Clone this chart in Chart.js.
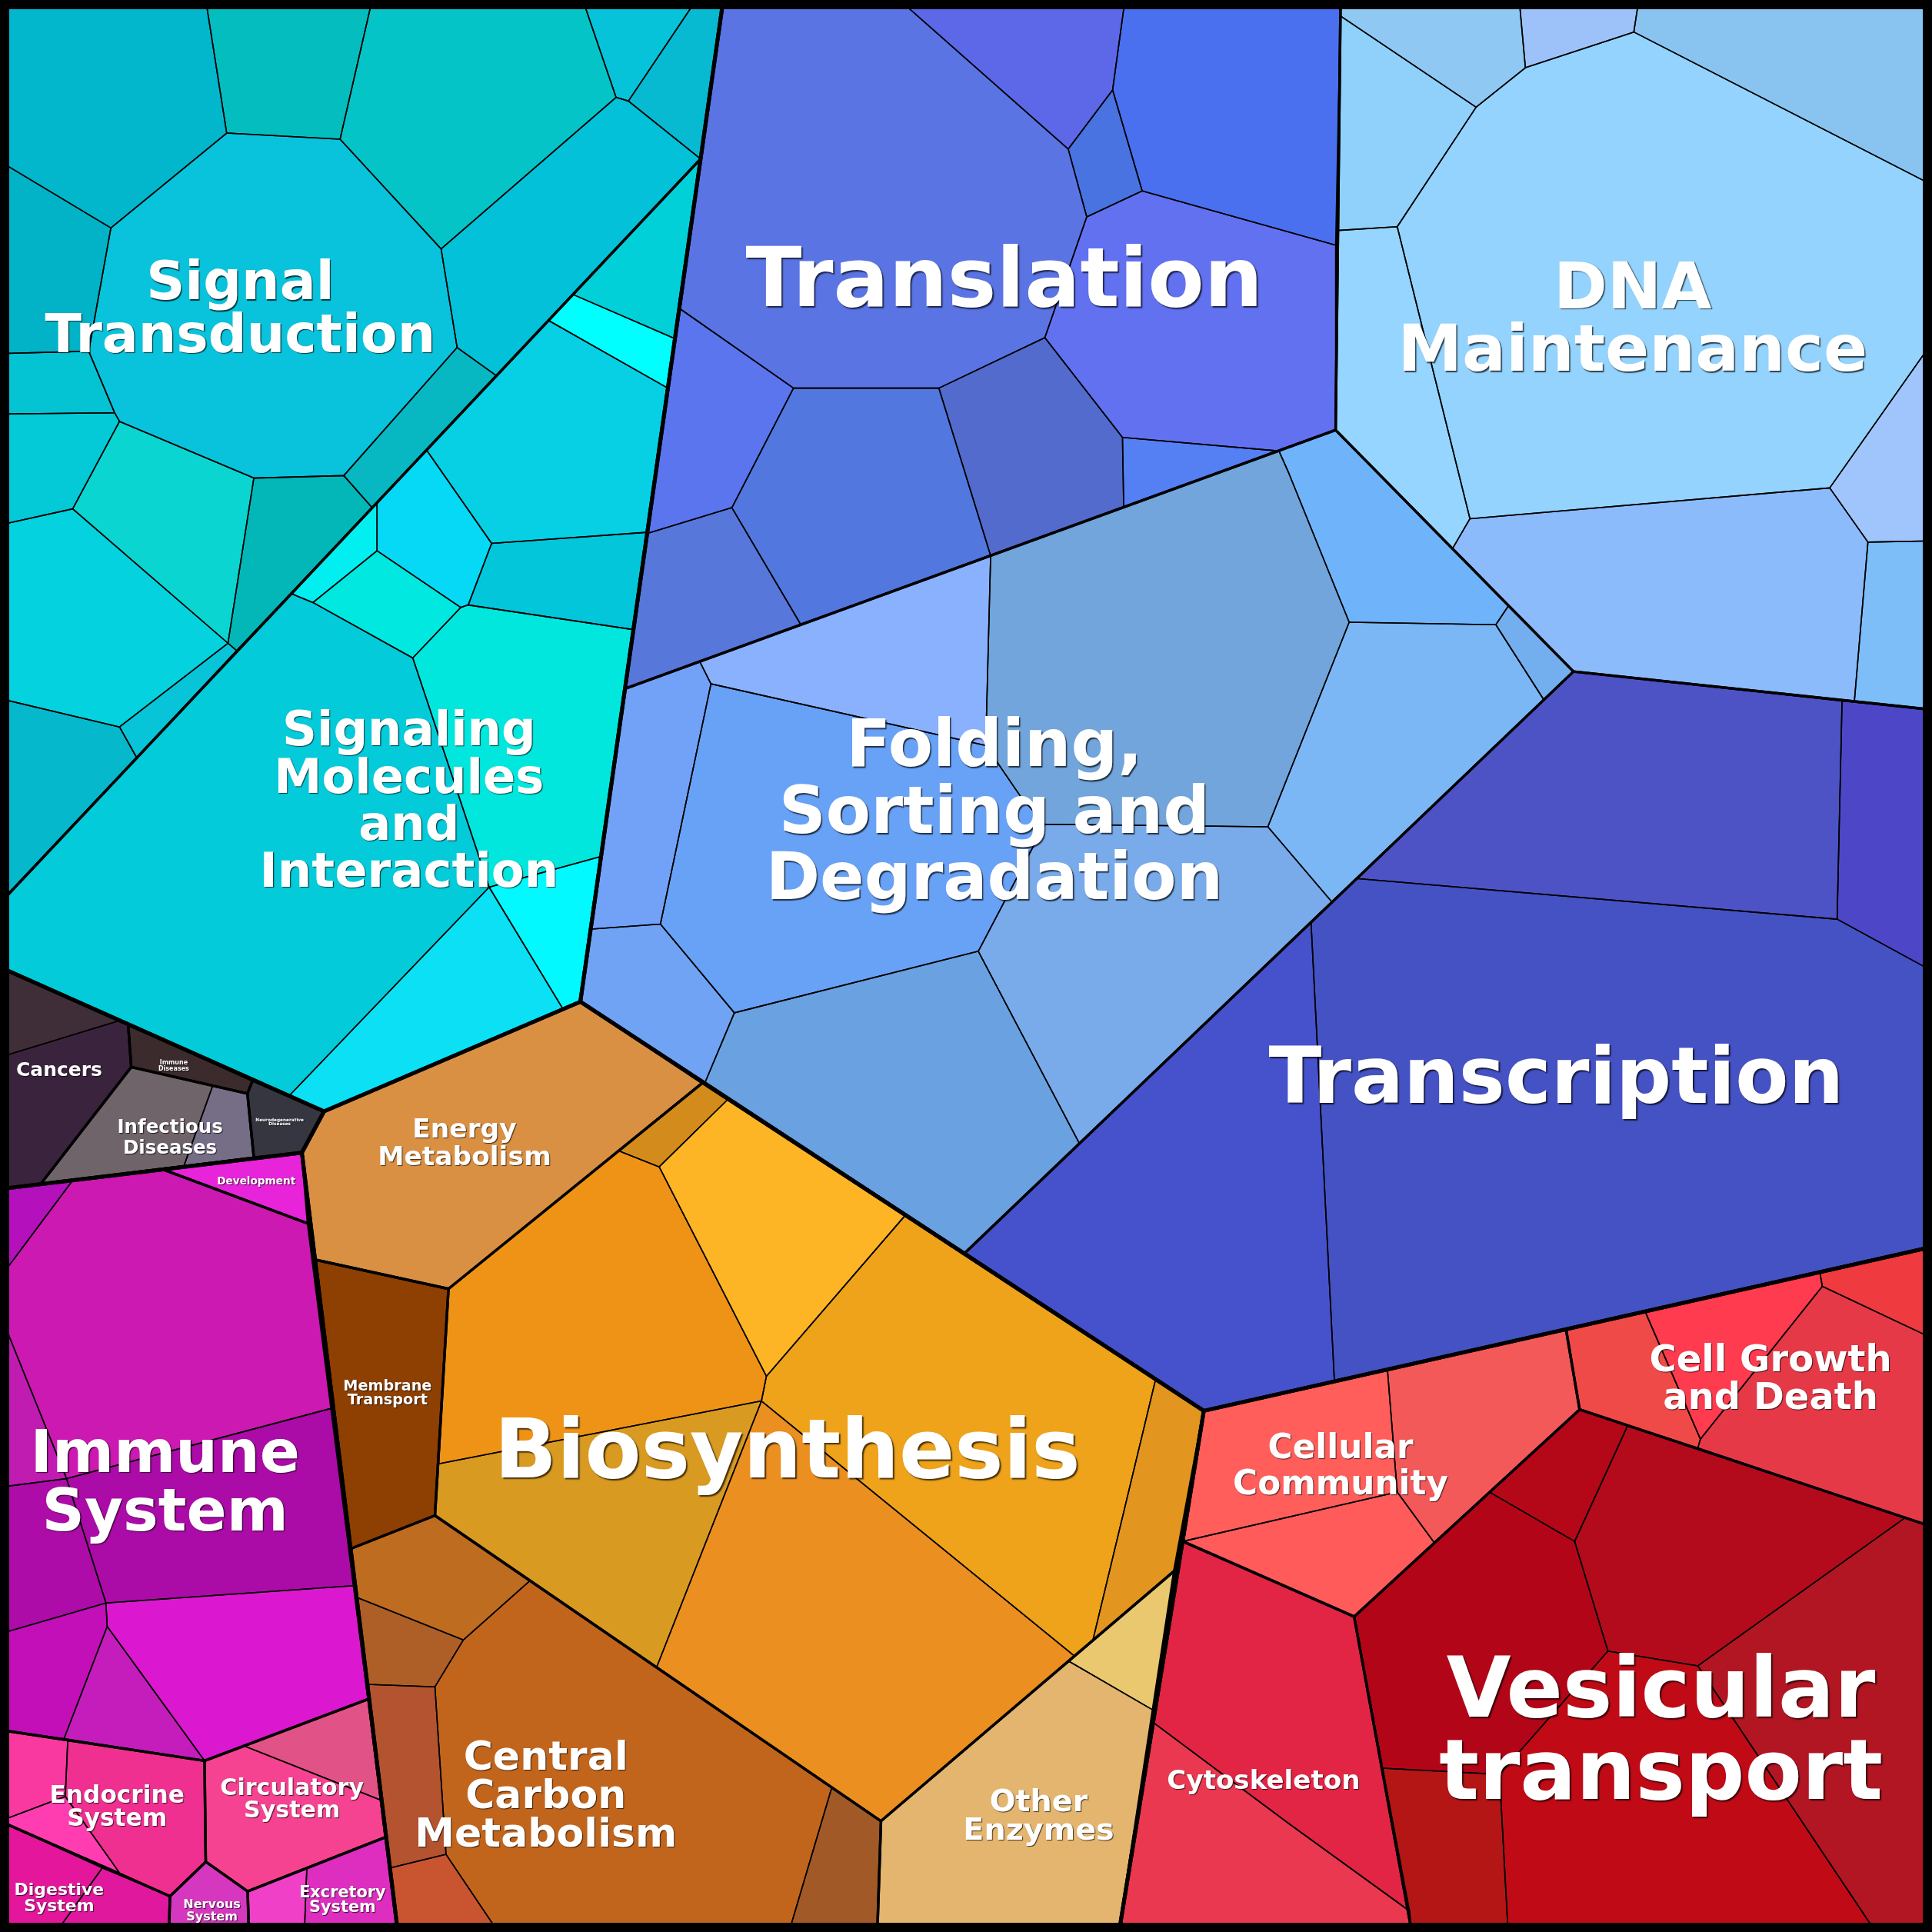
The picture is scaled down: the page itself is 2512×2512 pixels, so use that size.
<!DOCTYPE html>
<html>
<head>
<meta charset="utf-8">
<script src="https://cdn.jsdelivr.net/npm/chart.js@4.4.1/dist/chart.umd.min.js"></script>
<style>
  html, body { margin: 0; padding: 0; background: #000; }
  #wrap { width: 2512px; height: 2512px; }
</style>
</head>
<body>
<div id="wrap"><canvas id="voronoi"></canvas></div>
<script>
// Voronoi treemap of pathway categories. Coordinates are in map units (0..1568 on both axes).

// top level classes
const classNames = ['Environmental Information Processing', 'Genetic Information Processing', 'Metabolism',
  'Organismal Systems', 'Human Diseases', 'Cellular Processes'];
const classOutlines = [
  [[0,0],[587,0],[471,813],[263,902],[0,785]],
  [[587,0],[1568,0],[1568,1012],[977,1145],[471,813]],
  [[263,902],[471,813],[977,1145],[908,1569],[323,1569],[245,935.5]],
  [[0,965],[245,935.5],[323,1569],[0,1569]],
  [[0,785],[263,902],[245,935.5],[0,965]],
  [[977,1145],[1568,1012],[1568,1569],[908,1569]]
];

// second level categories
const categoryNames = ['Signal Transduction', 'Signaling Molecules and Interaction', 'Translation', 'DNA Maintenance',
  'Folding, Sorting and Degradation', 'Transcription', 'Energy Metabolism', 'Membrane Transport', 'Biosynthesis',
  'Central Carbon Metabolism', 'Other Enzymes', 'Cancers', 'Immune Diseases', 'Infectious Diseases',
  'Neurodegenerative Diseases', 'Development', 'Immune System', 'Endocrine System', 'Circulatory System',
  'Digestive System', 'Nervous System', 'Excretory System', 'Cellular Community', 'Cell Growth and Death',
  'Cytoskeleton', 'Vesicular transport'];
const categoryOutlines = [
  [[0,0],[587,0],[568.6,129],[0,733]],
  [[568.6,129],[471,813],[263,902],[0,785],[0,733]],
  [[587,0],[1088,0],[1084,349],[507,559]],
  [[1088,0],[1568,0],[1568,576],[1277,545],[1084,349]],
  [[507,559],[1084,349],[1277,545],[783,1017],[471,813]],
  [[1277,545],[1568,576],[1568,1012],[977,1145],[783,1017]],
  [[245,935.5],[263,902],[471,813],[570,879],[364,1046],[254,1022]],
  [[254,1022],[364,1046],[353,1230],[284.5,1257]],
  [[570,879],[977,1145],[953,1275],[715,1478],[353,1230],[364,1046]],
  [[284.5,1257],[353,1230],[715,1478],[712,1569],[323,1569]],
  [[953,1275],[908,1569],[712,1569],[715,1478]],
  [[0,785],[104,831],[106.5,866],[33,961],[0,965]],
  [[104,831],[205,877],[200.8,887.5],[106.5,866]],
  [[106.5,866],[200.8,887.5],[206,939.5],[33,961]],
  [[205,877],[263,902],[245,935.5],[206,939.5],[200.8,887.5]],
  [[132,949],[245,935.5],[250,993]],
  [[0,965],[132,949],[250,993],[299,1379],[166,1429],[0,1404]],
  [[0,1404],[166,1429],[167,1511],[138,1539],[0,1478]],
  [[166,1429],[299,1379],[313,1491],[201,1535],[167,1511]],
  [[0,1478],[138,1539],[137,1569],[0,1569]],
  [[138,1539],[167,1511],[201,1535],[202,1569],[137,1569]],
  [[201,1535],[313,1491],[323,1569],[202,1569]],
  [[977,1145],[1271,1079],[1282,1144],[1099,1312],[960,1251]],
  [[1271,1079],[1568,1012],[1568,1239],[1282,1144]],
  [[960,1251],[1099,1312],[1146,1569],[908,1569]],
  [[1099,1312],[1282,1144],[1568,1239],[1568,1569],[1146,1569]]
];

// leaf cells (pathways), grouped by class
const environmentalCells = [
  [[0,0],[167,0],[184,108],[90,185],[0,131]],
  [[167,0],[302,0],[276,113],[184,108]],
  [[302,0],[473,0],[500,79],[358,202],[276,113]],
  [[473,0],[565,0],[510,82],[500,79]],
  [[565,0],[587,0],[568.6,129],[510,82]],
  [[184,108],[276,113],[358,202],[371,282],[279,386],[206,388],[97,342],[93,335],[72,285],[90,185]],
  [[500,79],[510,82],[568.6,129],[403,305],[371,282],[358,202]],
  [[371,282],[403,305],[302,412],[279,386]],
  [[0,131],[90,185],[72,285],[0,287]],
  [[0,287],[72,285],[93,335],[0,336]],
  [[0,336],[93,335],[97,342],[59,413],[0,426]],
  [[97,342],[206,388],[185,522],[59,413]],
  [[206,388],[279,386],[302,412],[192,528],[185,522]],
  [[0,426],[59,413],[185,522],[97,590],[0,567]],
  [[97,590],[185,522],[192,528],[111,615]],
  [[0,567],[97,590],[111,615],[0,733]],
  [[568.6,129],[548,275],[465,239]],
  [[465,239],[548,275],[542,315],[445,260]],
  [[445,260],[542,315],[525,432],[399,441],[346,365]],
  [[346,365],[399,441],[380,491],[374,493],[306,447],[306,408]],
  [[399,441],[525,432],[514,511],[380,491]],
  [[306,408],[306,447],[254,489],[237,482]],
  [[306,447],[374,493],[335,534],[254,489]],
  [[380,491],[514,511],[488,695],[397,720],[335,534],[374,493]],
  [[397,720],[488,695],[471,813],[457,819]],
  [[397,720],[457,819],[263,902],[235,889]],
  [[0,733],[237,482],[254,489],[335,534],[397,720],[235,889],[0,785]]
];
const environmentalColors = ['#02b6cc','#04bdbe','#05c4c8','#06c3d9','#07b9d1','#08c3db','#03c1d8','#07b8c3',
  '#02b3c7','#04c3d3','#03cad6','#0bd5d1','#03b7b9','#04d3df','#08c4d9','#06b8cc',
  '#02d0d9','#00ffff','#07d0e5','#05d9f5','#03c6da','#02eff2','#00e8df','#01e7de','#02f9ff','#0be0f4','#03cbd9'];

const geneticCells = [
  [[587,0],[730,0],[867,121],[882,176],[848,274],[762,315],[644,315],[551,250]],
  [[730,0],[913,0],[903,73],[867,121]],
  [[913,0],[1088,0],[1084,199],[927,155],[903,73]],
  [[903,73],[927,155],[882,176],[867,121]],
  [[882,176],[927,155],[1084,199],[1084,349],[1038,366],[911,355],[848,274]],
  [[848,274],[911,355],[912,412],[804,451],[762,315]],
  [[911,355],[1038,366],[912,412]],
  [[644,315],[762,315],[804,451],[650,507],[594,412]],
  [[551,250],[644,315],[594,412],[525,433]],
  [[525,433],[594,412],[650,507],[507,559]],
  [[1088,0],[1233,0],[1238,55],[1198,87],[1088,13]],
  [[1233,0],[1330,0],[1326,26],[1238,55]],
  [[1330,0],[1568,0],[1568,150],[1326,26]],
  [[1198,87],[1238,55],[1326,26],[1568,150],[1568,278],[1485,396],[1193,421],[1134,184]],
  [[1088,13],[1198,87],[1134,184],[1086,187]],
  [[1086,187],[1134,184],[1193,421],[1179,445],[1084,349]],
  [[1485,396],[1568,278],[1568,439],[1516,440]],
  [[1193,421],[1485,396],[1516,440],[1505,569],[1277,545],[1179,445]],
  [[1516,440],[1568,439],[1568,576],[1505,569]],
  [[568,537],[804,451],[800,605],[577,555]],
  [[804,451],[1038,366],[1046,384],[1095,505],[1029,671],[848,669],[828,646],[800,605]],
  [[1038,366],[1084,349],[1179,445],[1224,492],[1214,507],[1095,505],[1046,384]],
  [[1214,507],[1224,492],[1277,545],[1253,568]],
  [[1095,505],[1214,507],[1253,568],[1081,732],[1029,671]],
  [[1029,671],[1081,732],[876,928],[794,772],[848,669]],
  [[577,555],[800,605],[828,646],[848,669],[794,772],[596,822],[536,750]],
  [[507,559],[568,537],[577,555],[536,750],[480,754]],
  [[480,754],[536,750],[596,822],[572,879],[471,813]],
  [[596,822],[794,772],[876,928],[783,1017],[572,879]],
  [[1277,545],[1495,569],[1491,746],[1101,713]],
  [[1495,569],[1568,576],[1568,788],[1491,746]],
  [[1101,713],[1491,746],[1568,788],[1568,1012],[1083,1121],[1064,748]],
  [[1064,748],[1083,1121],[977,1145],[783,1017]]
];
const geneticColors = ['#5a74e4','#5c68e7','#4a70ef','#4873e1','#6271f0','#526bcc','#5580f3','#5277df','#5b75ee','#5777db',
  '#8ec8f3','#9dc2fa','#89c4f0','#93d3fd','#8fd1fa','#95d5ff','#a0c5fd','#8cbbfc','#7dbef9',
  '#8ab1fd','#71a5db','#6fb4fb','#73afee','#7bb7f5','#79abeb','#68a2f6','#72a2f7','#70a3f4','#6aa1e0',
  '#4d53c4','#4d47c8','#4552c3','#4652cc'];

const metabolismCells = [
  [[245,935.5],[263,902],[471,813],[570,879],[364,1046],[254,1022]],
  [[254,1022],[364,1046],[353,1230],[284.5,1257]],
  [[570,879],[591,892],[535,947],[502,934]],
  [[591,892],[735,986],[622,1117],[535,947]],
  [[502,934],[535,947],[622,1117],[618,1137],[356,1188],[364,1046]],
  [[735,986],[938,1119],[887,1331],[872,1344],[618,1137],[622,1117]],
  [[938,1119],[977,1145],[953,1275],[887,1331]],
  [[356,1188],[618,1137],[533,1353],[353,1230]],
  [[618,1137],[872,1344],[715,1478],[533,1353]],
  [[953,1275],[936,1388],[867,1348]],
  [[867,1348],[936,1388],[908,1569],[712,1569],[715,1478]],
  [[284.5,1257],[353,1230],[430,1283],[376,1331],[288.5,1296]],
  [[288.5,1296],[376,1331],[353,1369],[297.5,1367]],
  [[430,1283],[675,1451],[640,1569],[405,1569],[362,1505],[353,1369],[376,1331]],
  [[675,1451],[715,1478],[712,1569],[640,1569]],
  [[297.5,1367],[353,1369],[362,1505],[316.5,1516]],
  [[316.5,1516],[362,1505],[405,1569],[323,1569]]
];
const metabolismColors = ['#da9043','#8e3f02','#d38b1c','#fdb526','#ef9316','#eea31a','#e2951f','#d99a22','#ea8f20',
  '#eac870','#e4b56e','#be6c20','#ae5f28','#c2651c','#a15a27','#b35330','#c85530'];

const organismalCells = [
  [[132,949],[245,935.5],[250,993]],
  [[0,965],[59,958],[0,1037]],
  [[59,958],[132,949],[250,993],[269,1143],[54,1200],[0,1066],[0,1037]],
  [[0,1066],[54,1200],[0,1207]],
  [[54,1200],[269,1143],[287,1287],[86,1301]],
  [[0,1207],[54,1200],[86,1301],[0,1326]],
  [[86,1301],[287,1287],[299,1379],[166,1429],[87,1320]],
  [[0,1326],[86,1301],[87,1320],[52,1411],[0,1404]],
  [[87,1320],[166,1429],[52,1411]],
  [[0,1404],[55,1412],[53,1458],[0,1478]],
  [[55,1412],[166,1429],[167,1511],[138,1539],[97,1520],[53,1458]],
  [[0,1478],[53,1458],[97,1520]],
  [[0,1478],[83,1516],[45,1569],[0,1569]],
  [[83,1516],[138,1539],[137,1569],[45,1569]],
  [[198,1417],[299,1379],[309,1461]],
  [[166,1429],[198,1417],[309,1461],[313,1491],[201,1535],[167,1511]],
  [[138,1539],[167,1511],[201,1535],[202,1569],[137,1569]],
  [[201,1535],[249,1516],[247,1569],[202,1569]],
  [[249,1516],[313,1491],[323,1569],[247,1569]]
];
const organismalColors = ['#e724d9','#b411bc','#cc19b1','#c01cb1','#ab0ba6','#ad0ca8','#db18d0','#c30fb8','#c41dbb',
  '#f939a0','#ef3090','#ff3db0','#e4169b','#df189e','#e15286','#f64391','#d637bf','#f040c8','#dd2ebf'];

const diseaseCells = [
  [[0,785],[98,828],[0,858]],
  [[0,858],[98,828],[104,831],[106.5,866],[33,961],[0,965]],
  [[104,831],[205,877],[200.8,887.5],[106.5,866]],
  [[106.5,866],[172.7,881],[149,947],[33,961]],
  [[172.7,881],[200.8,887.5],[206,939.5],[149,947]],
  [[205,877],[263,902],[245,935.5],[206,939.5],[200.8,887.5]]
];
const diseaseColors = ['#3f2e37','#3a243d','#3c2b2d','#6e6469','#766d86','#363641'];

const cellularCells = [
  [[977,1145],[1126,1111],[1134,1211],[960,1251]],
  [[1126,1111],[1271,1079],[1282,1144],[1164,1252],[1134,1211]],
  [[960,1251],[1134,1211],[1164,1252],[1099,1312]],
  [[1271,1079],[1335,1064],[1380,1168],[1378,1175],[1282,1144]],
  [[1335,1064],[1477,1033],[1479,1044],[1380,1168]],
  [[1477,1033],[1568,1012],[1568,1086],[1479,1044]],
  [[1380,1168],[1479,1044],[1568,1086],[1568,1239],[1378,1175]],
  [[960,1251],[1099,1312],[1144,1551],[1046,1480],[936,1398]],
  [[936,1398],[1046,1480],[1144,1551],[1146,1569],[908,1569]],
  [[1282,1144],[1321,1157],[1278,1251],[1209,1211]],
  [[1321,1157],[1546,1232],[1378,1352],[1305,1340],[1278,1251]],
  [[1546,1232],[1568,1239],[1568,1569],[1523,1569],[1378,1352]],
  [[1209,1211],[1278,1251],[1305,1340],[1217,1440],[1122,1435],[1099,1312]],
  [[1305,1340],[1378,1352],[1523,1569],[1224,1569],[1217,1440]],
  [[1122,1435],[1217,1440],[1224,1569],[1146,1569]]
];
const cellularColors = ['#ff5e5b','#f4595a','#ff5b5b','#f04a48','#fe3b4f','#ef3a3f','#e63947','#e22545','#e93850',
  '#b40818','#b30b1c','#b21623','#b20618','#c00b17','#b31614'];

// labels: text lines and [centre x, first baseline, font size, line step] in map units
const labelTexts = [
  ['Signal', 'Transduction'], ['Signaling', 'Molecules', 'and', 'Interaction'], ['Translation'], ['DNA', 'Maintenance'],
  ['Folding,', 'Sorting and', 'Degradation'], ['Transcription'], ['Energy', 'Metabolism'], ['Membrane', 'Transport'],
  ['Biosynthesis'], ['Central', 'Carbon', 'Metabolism'], ['Other', 'Enzymes'], ['Immune', 'System'], ['Development'],
  ['Endocrine', 'System'], ['Circulatory', 'System'], ['Digestive', 'System'], ['Nervous', 'System'],
  ['Excretory', 'System'], ['Cancers'], ['Immune', 'Diseases'], ['Infectious', 'Diseases'],
  ['Neurodegenerative', 'Diseases'], ['Cellular', 'Community'], ['Cell Growth', 'and Death'], ['Cytoskeleton'],
  ['Vesicular', 'transport']
];
const labelLayout = [
  [195, 243, 43.5, 43], [332, 605, 39, 38.3], [815, 248.5, 66.8, 0], [1325, 250, 52.6, 51],
  [807, 622, 53, 54], [1263, 895, 63, 0], [377, 923, 21.5, 22.7], [314.5, 1128.4, 12, 11.6],
  [639, 1199, 66.5, 0], [443, 1436, 32.5, 31.5], [843, 1470, 24.8, 23], [134, 1194.5, 48, 47.5], [208, 961.3, 8.5, 0],
  [95, 1463, 19.5, 19], [237, 1457, 18.8, 18], [48, 1538, 13.7, 13], [172, 1548.7, 10, 10],
  [278, 1540, 13, 12], [48, 873.5, 15.6, 0], [141, 864, 5, 4.8], [138, 919.3, 15.3, 16.7],
  [227, 910.4, 3.6, 3.1], [1088, 1183.4, 27.3, 29.6], [1437, 1112.7, 30, 30.7], [1025.5, 1452, 21.3, 0],
  [1348, 1393, 67.6, 67]
];

const toPoints = poly => poly.concat([poly[0]]).map(([x, y]) => ({ x, y }));

const datasets = [];
// frame
datasets.push({ label: 'frame', data: toPoints([[0,0],[1568,0],[1568,1568],[0,1568]]),
  showLine: true, borderColor: '#000', borderWidth: 24, pointRadius: 0 });
classOutlines.forEach((poly, i) => datasets.push({ label: classNames[i], data: toPoints(poly),
  showLine: true, borderColor: '#000', borderWidth: 5, borderJoinStyle: 'round', pointRadius: 0 }));
categoryOutlines.forEach((poly, i) => datasets.push({ label: categoryNames[i], data: toPoints(poly),
  showLine: true, borderColor: '#000', borderWidth: 3.4, borderJoinStyle: 'round', pointRadius: 0 }));
[[environmentalCells, environmentalColors], [geneticCells, geneticColors], [metabolismCells, metabolismColors],
 [organismalCells, organismalColors], [diseaseCells, diseaseColors], [cellularCells, cellularColors]]
  .forEach(([cells, colors]) => cells.forEach((poly, i) => datasets.push({
    label: 'cell', data: toPoints(poly), cellFill: colors[i],
    showLine: true, borderColor: '#000', borderWidth: 1.6, borderJoinStyle: 'round', pointRadius: 0 })));

// fill each cell polygon using the pixel positions the scales gave its points
const cellFill = {
  id: 'cellFill',
  beforeDatasetsDraw(chart) {
    const ctx = chart.ctx;
    chart.data.datasets.forEach((ds, i) => {
      if (!ds.cellFill) return;
      const pts = chart.getDatasetMeta(i).data;
      ctx.save();
      ctx.beginPath();
      pts.forEach((p, k) => k ? ctx.lineTo(p.x, p.y) : ctx.moveTo(p.x, p.y));
      ctx.closePath();
      ctx.fillStyle = ds.cellFill;
      ctx.fill();
      ctx.restore();
    });
  }
};

const cellLabels = {
  id: 'cellLabels',
  afterDatasetsDraw(chart) {
    const { ctx, scales: { x, y } } = chart;
    const unit = Math.abs(x.getPixelForValue(1) - x.getPixelForValue(0));
    labelTexts.forEach((lines, i) => {
      const [cx, by, size, step] = labelLayout[i];
      const px = size * unit;
      ctx.save();
      ctx.font = `bold ${px}px "DejaVu Sans"`;
      ctx.textAlign = 'center';
      ctx.textBaseline = 'alphabetic';
      ctx.fillStyle = '#fff';
      ctx.shadowColor = 'rgba(0,0,0,0.7)';
      ctx.shadowBlur = Math.max(1, px * 0.015);
      ctx.shadowOffsetX = Math.max(1, px * 0.018);
      ctx.shadowOffsetY = Math.max(1, px * 0.018);
      lines.forEach((t, k) => ctx.fillText(t, x.getPixelForValue(cx), y.getPixelForValue(by + k * step)));
      ctx.restore();
    });
  }
};

new Chart(document.getElementById('voronoi'), {
  type: 'scatter',
  data: { datasets },
  options: {
    responsive: true,
    maintainAspectRatio: false,
    animation: false,
    layout: { padding: 0 },
    scales: {
      x: { type: 'linear', min: 0, max: 1568, display: false },
      y: { type: 'linear', min: 0, max: 1568, reverse: true, display: false }
    },
    plugins: { legend: { display: false }, tooltip: { enabled: false } }
  },
  plugins: [cellFill, cellLabels]
});
</script>
</body>
</html>
